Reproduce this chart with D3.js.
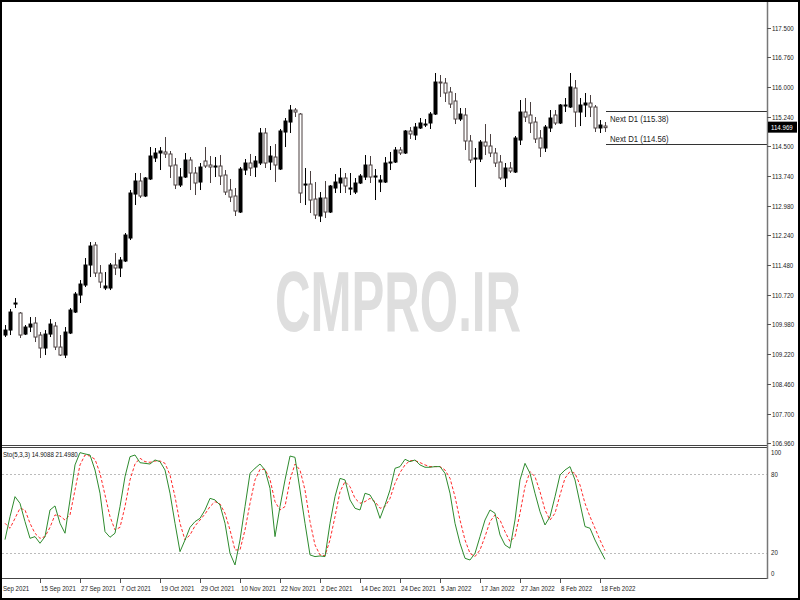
<!DOCTYPE html>
<html><head><meta charset="utf-8">
<script src="https://cdn.jsdelivr.net/npm/d3@7"></script>
<style>
html,body{margin:0;padding:0;background:#fff;}
svg text{font-family:"Liberation Sans",Arial,sans-serif;}
</style></head><body>
<svg id="c" width="800" height="600"></svg>
<script>
// ---- data (USDJPY daily, 6 Sep 2021 .. 21 Feb 2022, weekdays) ----
const openV = [109.702,109.829,110.489,110.261,109.727,109.905,110.007,109.702,109.372,109.727,
109.931,109.397,109.194,109.753,110.286,110.718,110.972,111.480,111.988,111.277,
110.896,110.896,111.480,111.404,111.582,112.166,113.283,113.614,113.233,113.665,
114.198,114.325,114.351,114.300,114.020,113.512,113.715,114.147,113.817,113.588,
114.122,114.020,113.969,113.995,113.766,113.385,113.233,112.826,113.893,114.071,
113.969,114.071,114.833,114.096,114.223,113.918,114.858,115.112,115.417,115.315,
113.512,113.537,113.156,112.725,113.182,112.826,113.436,113.563,113.690,113.410,
113.334,113.563,113.715,114.020,113.715,113.588,113.588,114.071,114.096,114.401,
114.325,114.884,114.782,114.960,115.036,115.087,115.315,116.128,116.103,115.874,
115.646,115.188,115.290,114.630,114.172,114.172,114.604,114.503,114.325,114.096,
113.690,113.944,113.842,114.655,115.366,115.290,115.112,114.706,114.452,114.960,
115.290,115.087,115.519,115.493,115.976,115.366,115.544,115.595,115.493,114.960,
115.010];
const highV = [109.956,110.362,110.642,110.286,109.956,110.159,110.159,109.778,109.829,110.108,
110.032,109.702,109.905,110.388,110.794,111.099,111.658,112.064,112.064,111.480,
111.302,111.531,111.785,111.683,112.293,113.385,113.817,113.817,113.715,114.477,
114.452,114.477,114.731,114.376,114.198,113.944,114.325,114.223,113.969,114.071,
114.477,114.249,114.223,114.274,113.893,113.665,113.436,113.969,114.172,114.300,
114.249,114.960,114.960,114.503,114.553,114.935,115.214,115.544,115.468,115.341,
113.944,113.868,113.588,113.334,113.614,113.512,113.791,113.944,113.817,113.817,
113.690,113.791,114.274,114.249,113.918,113.766,114.223,114.351,114.477,114.477,
114.909,114.985,115.087,115.214,115.188,115.366,116.357,116.306,116.230,116.001,
115.849,115.468,115.468,114.782,114.452,114.655,115.061,114.807,114.452,114.274,
114.071,114.096,114.757,115.671,115.722,115.620,115.239,114.909,115.036,115.417,
115.417,115.569,115.722,116.357,116.179,115.722,115.849,115.798,115.544,115.163,
115.112];
const lowV = [109.651,109.702,110.388,109.626,109.702,109.778,109.524,109.118,109.194,109.651,
109.321,109.169,109.118,109.727,110.261,110.515,110.921,111.175,111.175,110.896,
110.845,110.845,111.226,111.175,111.556,112.115,113.004,113.182,113.207,113.639,
114.096,113.893,114.198,113.690,113.410,113.461,113.690,113.385,113.258,113.385,
113.944,113.563,113.715,113.512,113.258,113.080,112.725,112.801,113.766,113.741,
113.715,114.020,113.944,113.893,113.588,113.893,114.477,114.833,115.239,113.055,
113.004,112.801,112.648,112.572,112.674,112.801,113.309,113.309,113.309,113.258,
113.283,113.537,113.639,113.563,113.131,113.334,113.563,113.893,114.071,114.274,
114.300,114.681,114.655,114.935,114.985,114.935,115.290,115.747,115.620,115.468,
115.061,115.137,114.401,114.071,113.461,114.096,114.274,114.223,113.969,113.639,
113.461,113.817,113.817,114.528,115.112,114.833,114.579,114.223,114.351,114.858,
115.036,115.061,115.366,115.468,114.985,115.010,115.239,115.239,114.858,114.833,
114.858];
const closeV = [109.829,110.286,110.515,109.702,109.905,109.981,109.651,109.372,109.727,109.981,
109.397,109.194,109.778,110.337,110.743,110.997,111.480,111.963,111.277,111.048,
110.947,111.480,111.404,111.607,112.242,113.309,113.614,113.233,113.690,114.249,
114.325,114.376,114.300,113.995,113.512,113.715,114.147,113.817,113.563,113.969,
113.995,113.969,113.995,113.741,113.334,113.207,112.852,113.918,114.071,113.944,
114.122,114.833,114.071,114.249,114.020,114.884,115.137,115.417,115.366,113.309,
113.537,113.131,112.750,113.182,112.826,113.487,113.588,113.690,113.487,113.436,
113.563,113.741,114.020,113.715,113.741,113.639,114.071,114.096,114.401,114.325,
114.884,114.807,114.985,115.087,115.061,115.315,116.128,116.103,115.849,115.569,
115.188,115.315,114.630,114.147,114.198,114.604,114.503,114.325,114.071,113.690,
113.944,113.868,114.706,115.366,115.239,115.087,114.681,114.452,114.985,115.214,
115.087,115.544,115.544,116.001,115.366,115.544,115.595,115.493,114.960,115.036,
114.969];
// Stochastic(5,3,3) main (%K) and signal (%D)
const stochK = [30,47.6,62.9,57.8,43.8,31,32.3,27.2,32.3,52.7,
55.8,42.5,34.9,60.4,87.2,96.6,95.6,94.8,83.3,65.5,
36.1,31.8,34.9,55.3,78.2,93.5,94.8,88.9,88.4,87.9,
91,89.7,83.3,65.5,42.5,20.8,29.7,39.4,43.8,46.3,
52.7,61.6,60.4,56.5,42.5,19.5,10.6,29.7,55.3,80.8,
84.6,87.9,83.3,69.3,32.3,55.3,75.7,94,93,68,
42.5,18.3,17,17.5,17,42.5,62.9,76.9,75.7,60.4,
54,52.7,65.5,64.2,57.8,46.3,56.5,68,84.6,85.9,
91.5,89.7,91,87.2,85.4,85.4,85.9,85.9,80.8,65.5,
42.5,27.2,15.7,14.4,19.5,32.3,45,52.7,50.2,33.6,
25.9,23.4,45,75.7,88.4,80.8,65.5,51.4,41.2,47.6,
62.9,79.5,83.3,85.9,75.7,57.8,40,38.7,29.7,22.1,
14.9088];
const stochD = [42.5,38.7,46.3,54,52.7,42.5,34.8,31,32.3,39.4,
48.9,48.1,45,48.9,68,87.2,94.8,94,91.5,80.8,
64.2,47.6,37.4,39.4,55.3,75.7,87.9,92.3,89.7,89.2,
90.2,90.2,88.4,79.5,62.9,42.5,29.7,33.6,40.5,45,
49.6,55.3,59.1,57.3,50.2,37.4,22.1,22.1,37.4,57.8,
75.7,83.8,83.8,76.2,59.1,52.7,55.3,75.7,87.9,83.3,
68,43.8,25.9,18.3,17.7,29.7,47.6,66.7,74.4,70.6,
61.6,57.8,59.1,61.6,59.1,54,55.3,61.6,73.1,81.3,
87.2,90.5,90.5,89,87.2,85.9,85.9,85.9,83.3,77,
62.9,45,29.7,19.5,17,22.1,32.3,43.8,48.9,45,
36.1,28.5,32.3,50.2,70.6,82.1,78.2,66.7,52.7,45,
50.2,64.2,77,82.1,80.8,71.8,57.8,47.6,38.7,29.7,
21.498];
const priceTicks = [117.500,116.760,116.000,115.240,114.500,113.740,112.980,112.240,111.480,110.720,109.980,109.220,108.460,107.700,106.960];
const stochTicks = [100,80,20,0];
const stochLevels = [80,20];
const dateTickIdx = [-1,7,15,23,31,39,47,55,63,71,79,87,95,103,111,119];
const dateTickLabels = ["Sep 2021","15 Sep 2021","27 Sep 2021","7 Oct 2021","19 Oct 2021","29 Oct 2021","10 Nov 2021","22 Nov 2021","2 Dec 2021","14 Dec 2021","24 Dec 2021","5 Jan 2022","17 Jan 2022","27 Jan 2022","8 Feb 2022","18 Feb 2022"];
const nextLevels = [115.38,114.56];
const lastPrice = 114.969;
const symbolInfo = "Sto(5,3,3) 14.9088 21.4980";
const watermark = "CMPRO.IR";

// ---- drawing ----
const svg = d3.select("#c");
const W = 800, H = 600;
const axisX = 767;
const n = closeV.length;
const x = d3.scaleLinear().domain([0, n-1]).range([5, 605]);
const y = d3.scaleLinear().domain([106.96, 117.5]).range([443, 28]);
const ys = d3.scaleLinear().domain([0, 100]).range([578.8, 448.2]);

// condensed text helper (narrow look)
function ntext(g, tx, ty, size, str, fill, sx) {
  return g.append("text")
    .attr("transform", `translate(${tx},${ty}) scale(${sx || 0.82},1)`)
    .attr("font-size", size).attr("fill", fill || "#222").text(str);
}

svg.append("rect").attr("width",W).attr("height",H).attr("fill","#fff");

// watermark
svg.append("text").attr("x",398).attr("y",331).attr("text-anchor","middle")
  .attr("font-size",86).attr("font-weight","bold").attr("fill","#dedede")
  .attr("textLength",246).attr("lengthAdjust","spacingAndGlyphs")
  .text(watermark);

// main candles
const bull = i => closeV[i] >= openV[i];
const hollowCol = "#4a3f3f";
const cg = svg.append("g");
const idx = d3.range(n);
cg.selectAll("line.w").data(idx).join("line")
  .attr("x1", i => Math.round(x(i))+0.5).attr("x2", i => Math.round(x(i))+0.5)
  .attr("y1", i => y(highV[i])).attr("y2", i => y(lowV[i]))
  .attr("stroke", i => bull(i) ? "#000" : hollowCol).attr("stroke-width",1);
cg.selectAll("rect.b").data(idx).join("rect")
  .attr("x", i => Math.round(x(i))-1)
  .attr("width", 3)
  .attr("y", i => y(Math.max(openV[i],closeV[i])))
  .attr("height", i => Math.max(1, Math.abs(y(openV[i])-y(closeV[i]))))
  .attr("fill", i => bull(i) ? "#000" : "#fff")
  .attr("stroke", i => bull(i) ? "#000" : hollowCol).attr("stroke-width",1);

// Next D1 lines
const nd = svg.append("g");
nextLevels.forEach((v,k) => {
  const yy = Math.round(y(v))+0.5;
  nd.append("line").attr("x1",606).attr("x2",axisX).attr("y1",yy).attr("y2",yy)
    .attr("stroke","#333").attr("stroke-width",1);
  ntext(nd, 610, k===0 ? yy+10 : yy-3, 9.5, "Next D1 (" + v.toFixed(2) + ")", "#222");
});

// panel separator lines / frame
svg.append("line").attr("x1",0).attr("x2",axisX).attr("y1",445.5).attr("y2",445.5).attr("stroke","#444");
svg.append("line").attr("x1",0).attr("x2",axisX).attr("y1",447.5).attr("y2",447.5).attr("stroke","#444");
svg.append("line").attr("x1",0).attr("x2",axisX).attr("y1",578.5).attr("y2",578.5).attr("stroke","#444");
svg.append("line").attr("x1",axisX+0.5).attr("x2",axisX+0.5).attr("y1",0).attr("y2",579).attr("stroke","#777").attr("stroke-width",1.5);

// price axis
const pa = svg.append("g");
priceTicks.forEach(v => {
  const yy = Math.round(y(v))+0.5;
  pa.append("line").attr("x1",axisX).attr("x2",axisX+4).attr("y1",yy).attr("y2",yy).attr("stroke","#555");
  ntext(pa, axisX+5, yy+2.5, 7.5, v.toFixed(3), "#222");
});
// current price label
const cy = y(lastPrice);
pa.append("rect").attr("x",axisX+1).attr("y",cy-6).attr("width",29).attr("height",11).attr("fill","#000");
ntext(pa, axisX+4, cy+2.5, 7.5, lastPrice.toFixed(3), "#fff");

// stochastic panel
const sp = svg.append("g");
stochLevels.forEach(v => {
  sp.append("line").attr("x1",2).attr("x2",axisX).attr("y1",Math.round(ys(v))+0.5).attr("y2",Math.round(ys(v))+0.5)
    .attr("stroke","#bbb").attr("stroke-dasharray","2,2");
});
stochTicks.forEach(v => {
  let yy = ys(v);
  if (v === 100) yy += 7; else if (v === 0) yy -= 3; else yy += 2.5;
  ntext(sp, axisX+4, yy, 7.5, String(v), "#222");
});
const lineK = d3.line().x((d,i) => x(i)).y(d => ys(d));
sp.append("path").attr("d", lineK(stochD)).attr("fill","none").attr("stroke","#ff2a2a")
  .attr("stroke-width",1).attr("stroke-dasharray","3,2");
sp.append("path").attr("d", lineK(stochK)).attr("fill","none").attr("stroke","#2e8b2e").attr("stroke-width",1);
ntext(sp, 3, 457, 7.5, symbolInfo, "#111");

// date axis
const da = svg.append("g");
dateTickIdx.forEach((di,k) => {
  const xx = Math.round(x(di))+0.5;
  if (di >= 0) da.append("line").attr("x1",xx).attr("x2",xx).attr("y1",579).attr("y2",583).attr("stroke","#555");
  ntext(da, di < 0 ? 3 : xx+0.5, 591, 7.5, dateTickLabels[k], "#222");
});

// outer frame
svg.append("rect").attr("x",1).attr("y",1).attr("width",W-2).attr("height",H-2)
  .attr("fill","none").attr("stroke","#000").attr("stroke-width",2);
</script>
</body></html>
